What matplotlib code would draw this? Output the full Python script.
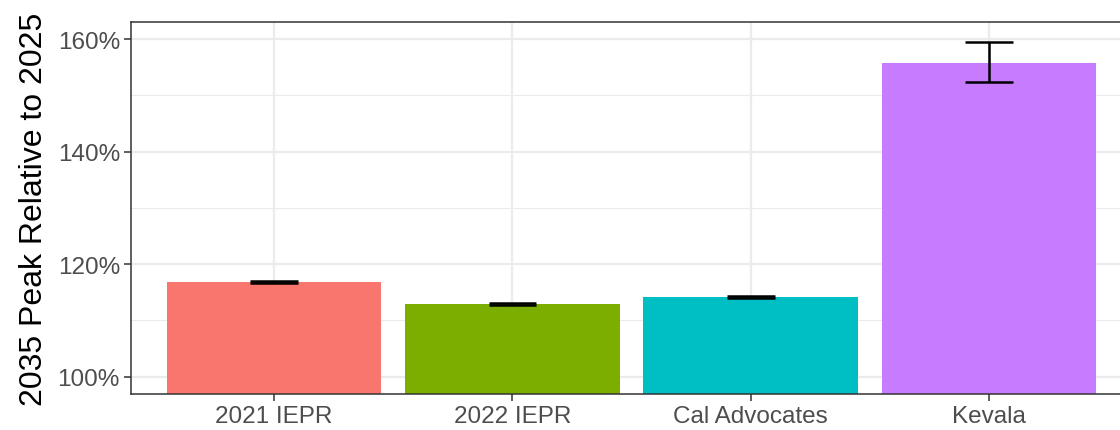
import matplotlib
matplotlib.use("Agg")
import matplotlib.pyplot as plt
from matplotlib.ticker import FuncFormatter, MultipleLocator

categories = ["2021 IEPR", "2022 IEPR", "Cal Advocates", "Kevala"]
values = [1.168, 1.129, 1.141, 1.557]
err_low = [1.1665, 1.1275, 1.1395, 1.523]
err_high = [1.1695, 1.1305, 1.1425, 1.595]
colors = ["#F8766D", "#7CAE00", "#00BFC4", "#C77CFF"]
yticks = [1.0, 1.2, 1.4, 1.6]
ylabel = "2035 Peak Relative to 2025"

plt.rcParams['font.family'] = ['Liberation Sans', 'DejaVu Sans']

W, H = 1120, 431
fig = plt.figure(figsize=(W / 100, H / 100), dpi=100)
left, right, top, bottom = 131, 1132, 23.3, 394.5
ax = fig.add_axes([left / W, (H - bottom) / H, (right - left) / W, (bottom - top) / H])
ax.set_clip_on(False)

x = list(range(len(categories)))
ax.bar(x, values, width=0.9, color=colors, zorder=2)

for xi, lo, hi in zip(x, err_low, err_high):
    ax.vlines(xi, lo, hi, color="black", lw=1.8, zorder=3)
    ax.hlines([lo, hi], xi - 0.1, xi + 0.1, color="black", lw=1.8, zorder=3)

ax.set_xlim(-0.6, len(categories) - 1 + 0.6)
ax.set_ylim(0.97, 1.63)
ax.set_xticks(x)
ax.set_xticklabels(categories)
ax.set_yticks(yticks)
ax.yaxis.set_minor_locator(MultipleLocator(0.1))
ax.yaxis.set_major_formatter(FuncFormatter(lambda v, p: f"{v*100:.0f}%"))

ax.grid(True, which="major", color="#EBEBEB", lw=1.6, zorder=0)
ax.grid(True, which="minor", axis="y", color="#EBEBEB", lw=0.8, zorder=0)
ax.set_axisbelow(True)

for s in ax.spines.values():
    s.set_color("#333333")
    s.set_linewidth(1.1)
ax.spines["right"].set_visible(False)

ax.tick_params(axis="both", which="major", length=5, width=1.1, color="#333333",
               labelcolor="#4D4D4D", labelsize=17.5, pad=3)
ax.tick_params(axis="y", which="minor", length=0)

ax.set_ylabel(ylabel, fontsize=23, color="black", labelpad=6)

fig.savefig("out.png", dpi=100)
